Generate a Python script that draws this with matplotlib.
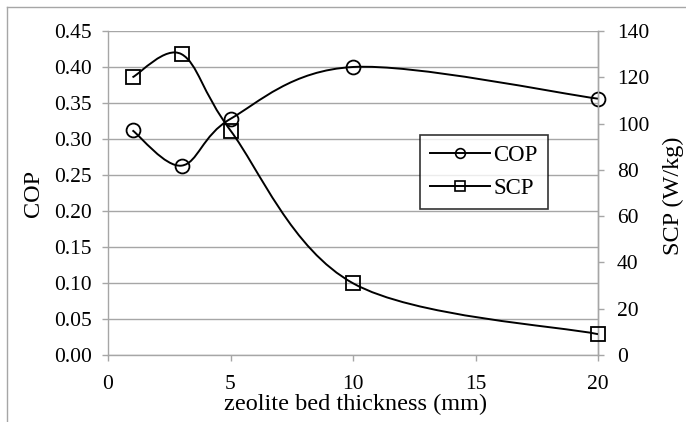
import numpy as np
import matplotlib
matplotlib.use("Agg")
import matplotlib.pyplot as plt
from matplotlib.path import Path
from matplotlib.patches import PathPatch
from matplotlib.lines import Line2D

# data
thickness = [1, 3, 5, 10, 20]
cop = [0.312, 0.263, 0.328, 0.400, 0.356]
scp = [120, 130, 97, 31, 9]

plt.rcParams['font.family'] = ['Liberation Serif', 'DejaVu Serif']

grid_col = '#a6a6a6'
tick_fs = 15.5
label_fs = 17.5


def smooth_path(x, y):
    # Excel-like smoothed line: cubic bezier with catmull-rom tangents
    p = np.column_stack([x, y]).astype(float)
    n = len(p)
    verts = [p[0]]
    codes = [Path.MOVETO]
    for i in range(n - 1):
        p0 = p[i - 1] if i > 0 else p[i]
        p3 = p[i + 2] if i + 2 < n else p[i + 1]
        c1 = p[i] + (p[i + 1] - p0) / 6.0
        c2 = p[i + 1] - (p3 - p[i]) / 6.0
        verts += [c1, c2, p[i + 1]]
        codes += [Path.CURVE4] * 3
    return Path(verts, codes)


fig = plt.figure(figsize=(6.86, 4.22), dpi=100)
ax = fig.add_axes([108 / 686, 1 - 355 / 422, 490 / 686, 324 / 422])
ax2 = ax.twinx()

ax.set_xlim(0, 20)
ax.set_ylim(0, 0.45)
ax2.set_ylim(0, 140)
ax.set_xticks([0, 5, 10, 15, 20])
ax.set_yticks(np.arange(0, 0.451, 0.05))
ax.set_yticklabels([f'{v:.2f}' for v in np.arange(0, 0.451, 0.05)])
ax2.set_yticks(range(0, 141, 20))

ax.grid(axis='y', color=grid_col, linewidth=1.0)
ax.set_axisbelow(True)
for a in (ax, ax2):
    a.spines['top'].set_visible(False)
    for s in ('left', 'right', 'bottom'):
        a.spines[s].set_color(grid_col)
        a.spines[s].set_linewidth(1.0)
    a.tick_params(color=grid_col, length=4.5, width=1.0, labelsize=tick_fs)
ax.tick_params(axis='y', pad=7)
ax.tick_params(axis='x', pad=10)
ax2.tick_params(axis='y', pad=9)
ax2.spines['left'].set_visible(False)
ax2.spines['bottom'].set_visible(False)

# smoothed lines
ax.add_patch(PathPatch(smooth_path(thickness, cop), facecolor='none',
                       edgecolor='black', linewidth=1.4, zorder=3))
ax2.add_patch(PathPatch(smooth_path(thickness, scp), facecolor='none',
                        edgecolor='black', linewidth=1.4, zorder=3))
# markers
ax.plot(thickness, cop, linestyle='none', marker='o', markersize=10,
        markerfacecolor='none', markeredgecolor='black', markeredgewidth=1.3,
        zorder=4, clip_on=False)
ax2.plot(thickness, scp, linestyle='none', marker='s', markersize=9.5,
         markerfacecolor='none', markeredgecolor='black', markeredgewidth=1.3,
         zorder=4, clip_on=False)

ax.set_xlabel('zeolite bed thickness (mm)', fontsize=label_fs, va='center')
ax.xaxis.set_label_coords(0.506, -0.154)
ax.set_ylabel('COP', fontsize=label_fs, va='center')
ax.yaxis.set_label_coords(-0.153, 0.5)
ax2.set_ylabel('SCP (W/kg)', fontsize=label_fs, va='center')
ax2.yaxis.set_label_coords(1.153, 0.49)

handles = [
    Line2D([], [], color='black', linewidth=1.4, marker='o', markersize=7,
           markerfacecolor='none', markeredgewidth=1.2),
    Line2D([], [], color='black', linewidth=1.4, marker='s', markersize=7,
           markerfacecolor='none', markeredgewidth=1.2),
]
leg = ax2.legend(handles, ['COP', 'SCP'], loc='upper left',
                 bbox_to_anchor=((420 - 108) / 490, (355 - 135) / 324),
                 frameon=True, fancybox=False, edgecolor='black',
                 numpoints=1, handlelength=2.6, handletextpad=0.15,
                 borderpad=0.45, labelspacing=0.5, fontsize=16.5,
                 borderaxespad=0)
leg.get_frame().set_linewidth(1.2)

# chart area border (left and top visible)
fig.add_artist(Line2D([7 / 686, 7 / 686], [0, 1 - 7 / 422], color=grid_col,
                      linewidth=1.0, transform=fig.transFigure))
fig.add_artist(Line2D([7 / 686, 1], [1 - 7 / 422, 1 - 7 / 422], color=grid_col,
                      linewidth=1.0, transform=fig.transFigure))

fig.savefig('out.png', dpi=100)
